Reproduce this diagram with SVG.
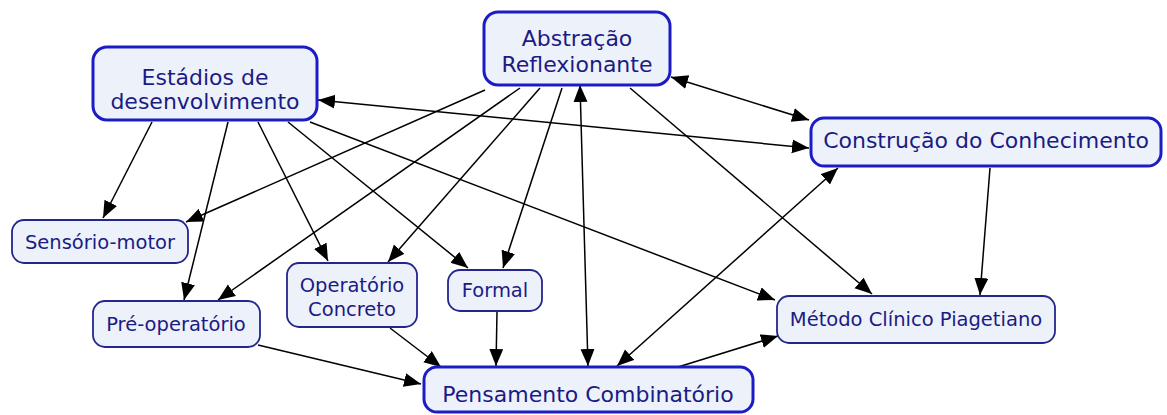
<svg xmlns="http://www.w3.org/2000/svg" width="1167" height="415" viewBox="0 0 1167 415">
<style>
.bg{fill:#ffffff}
.main{fill:#EDF2FA;stroke:#1C1CC4;stroke-width:3}
.sub{fill:#EDF2FA;stroke:#25258E;stroke-width:1.8}
.tl{font-family:"DejaVu Sans",Verdana,sans-serif;fill:#1B1B85;text-anchor:middle}
.big{font-size:22px}
.small{font-size:19.5px}
.c line{stroke:#000;stroke-width:1.5;fill:none}
</style>
<defs>
<marker id="ah" markerUnits="userSpaceOnUse" markerWidth="18" markerHeight="15" refX="17" refY="7" orient="auto">
<path d="M0,0 L17,7 L0,14 Z" fill="#000"/>
</marker>
<marker id="as" markerUnits="userSpaceOnUse" markerWidth="18" markerHeight="15" refX="17" refY="7" orient="auto-start-reverse">
<path d="M0,0 L17,7 L0,14 Z" fill="#000"/>
</marker>
</defs>
<rect class="bg" width="1167" height="415"/>
<g id="connectors" class="c">
<line x1="152" y1="122" x2="103" y2="218" marker-end="url(#ah)"/>
<line x1="485" y1="90" x2="186" y2="222" marker-end="url(#ah)"/>
<line x1="228" y1="122" x2="184" y2="300" marker-end="url(#ah)"/>
<line x1="520" y1="88" x2="218" y2="300" marker-end="url(#ah)"/>
<line x1="258" y1="122" x2="328" y2="261" marker-end="url(#ah)"/>
<line x1="540" y1="88" x2="388" y2="262" marker-end="url(#ah)"/>
<line x1="288" y1="122" x2="468" y2="268" marker-end="url(#ah)"/>
<line x1="562" y1="88" x2="503" y2="268" marker-end="url(#ah)"/>
<line x1="310" y1="122" x2="775" y2="300" marker-end="url(#ah)"/>
<line x1="630" y1="88" x2="872" y2="294" marker-end="url(#ah)"/>
<line x1="990" y1="168" x2="980" y2="295" marker-end="url(#ah)"/>
<line x1="318" y1="100" x2="809" y2="148" marker-start="url(#as)" marker-end="url(#ah)"/>
<line x1="671" y1="77" x2="809" y2="120" marker-start="url(#as)" marker-end="url(#ah)"/>
<line x1="580" y1="85" x2="588" y2="366" marker-start="url(#as)" marker-end="url(#ah)"/>
<line x1="838" y1="168" x2="617" y2="366" marker-start="url(#as)" marker-end="url(#ah)"/>
<line x1="258" y1="345" x2="421" y2="384" marker-end="url(#ah)"/>
<line x1="390" y1="328" x2="441" y2="367" marker-end="url(#ah)"/>
<line x1="497" y1="312" x2="496" y2="366" marker-end="url(#ah)"/>
<line x1="678" y1="367" x2="778" y2="336" marker-end="url(#ah)"/>
</g>
<g id="estadios">
<rect class="main" x="93" y="47" width="224" height="73" rx="14"/>
<text class="tl big" x="205" y="85">Estádios de</text>
<text class="tl big" x="205" y="109">desenvolvimento</text>
</g>
<g id="abstracao">
<rect class="main" x="484" y="12" width="186" height="73" rx="14"/>
<text class="tl big" x="577" y="46">Abstração</text>
<text class="tl big" x="577" y="72">Reflexionante</text>
</g>
<g id="construcao">
<rect class="main" x="811" y="118" width="350" height="48" rx="13"/>
<text class="tl big" x="986" y="148">Construção do Conhecimento</text>
</g>
<g id="sensorio">
<rect class="sub" x="12" y="220" width="176" height="43" rx="12"/>
<text class="tl small" x="100" y="249">Sensório-motor</text>
</g>
<g id="preoperatorio">
<rect class="sub" x="93" y="301" width="167" height="46" rx="12"/>
<text class="tl small" x="176" y="331">Pré-operatório</text>
</g>
<g id="concreto">
<rect class="sub" x="287" y="263" width="130" height="64" rx="12"/>
<text class="tl small" x="352" y="292">Operatório</text>
<text class="tl small" x="352" y="316">Concreto</text>
</g>
<g id="formal">
<rect class="sub" x="448" y="270" width="94" height="41" rx="12"/>
<text class="tl small" x="495" y="297">Formal</text>
</g>
<g id="pensamento">
<rect class="main" x="424" y="367" width="329" height="45" rx="13"/>
<text class="tl big" x="588" y="402">Pensamento Combinatório</text>
</g>
<g id="metodo">
<rect class="sub" x="777" y="296" width="278" height="47" rx="12"/>
<text class="tl small" x="916" y="326">Método Clínico Piagetiano</text>
</g>
</svg>
